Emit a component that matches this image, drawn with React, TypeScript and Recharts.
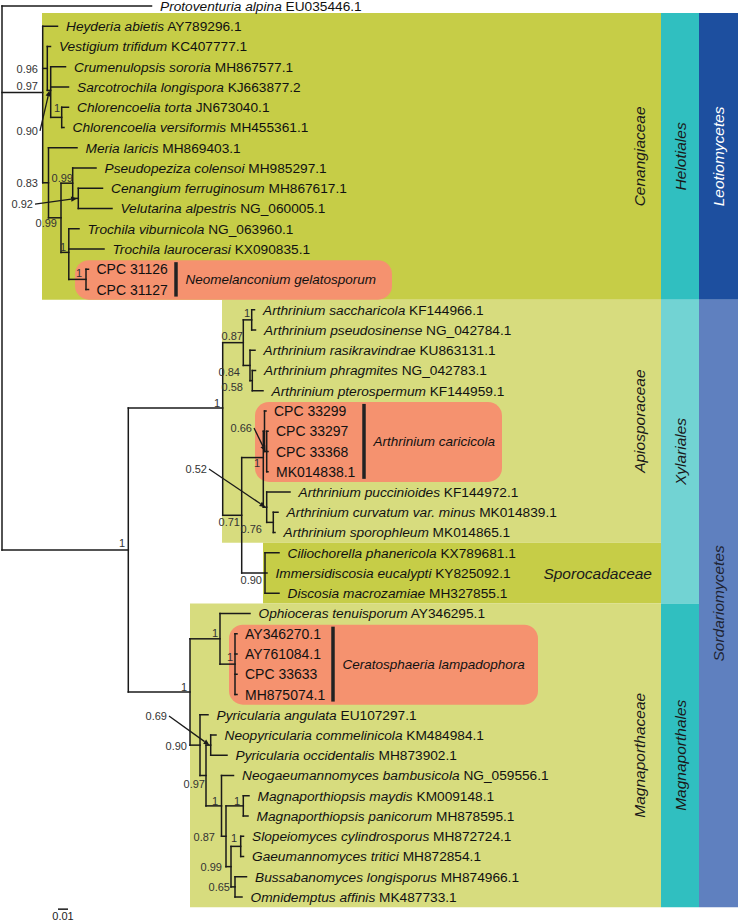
import React from 'react';
import { ScatterChart, Scatter, XAxis, YAxis, ReferenceLine, ReferenceArea } from 'recharts';

const FONT = '"Liberation Sans", Arial, Helvetica, sans-serif';
const INK = '#1a1a1a';

// tips, top to bottom: the row of a tip is its index
const taxa = [
  'Protoventuria alpina', 'Heyderia abietis', 'Vestigium trifidum', 'Crumenulopsis sororia',
  'Sarcotrochila longispora', 'Chlorencoelia torta', 'Chlorencoelia versiformis', 'Meria laricis',
  'Pseudopeziza colensoi', 'Cenangium ferruginosum', 'Velutarina alpestris', 'Trochila viburnicola',
  'Trochila laurocerasi', '', '', 'Arthrinium saccharicola', 'Arthrinium pseudosinense',
  'Arthrinium rasikravindrae', 'Arthrinium phragmites', 'Arthrinium pterospermum', '', '', '', '',
  'Arthrinium puccinioides', 'Arthrinium curvatum var. minus', 'Arthrinium sporophleum',
  'Ciliochorella phanericola', 'Immersidiscosia eucalypti', 'Discosia macrozamiae',
  'Ophioceras tenuisporum', '', '', '', '', 'Pyricularia angulata', 'Neopyricularia commelinicola',
  'Pyricularia occidentalis', 'Neogaeumannomyces bambusicola', 'Magnaporthiopsis maydis',
  'Magnaporthiopsis panicorum', 'Slopeiomyces cylindrosporus', 'Gaeumannomyces tritici',
  'Bussabanomyces longisporus', 'Omnidemptus affinis',
];

const accessions = [
  'EU035446.1', 'AY789296.1', 'KC407777.1', 'MH867577.1', 'KJ663877.2', 'JN673040.1', 'MH455361.1',
  'MH869403.1', 'MH985297.1', 'MH867617.1', 'NG_060005.1', 'NG_063960.1', 'KX090835.1',
  'CPC 31126', 'CPC 31127', 'KF144966.1', 'NG_042784.1', 'KU863131.1', 'NG_042783.1', 'KF144959.1',
  'CPC 33299', 'CPC 33297', 'CPC 33368', 'MK014838.1', 'KF144972.1', 'MK014839.1', 'MK014865.1',
  'KX789681.1', 'KY825092.1', 'MH327855.1', 'AY346295.1', 'AY346270.1', 'AY761084.1', 'CPC 33633',
  'MH875074.1', 'EU107297.1', 'KM484984.1', 'MH873902.1', 'NG_059556.1', 'KM009148.1', 'MH878595.1',
  'MH872724.1', 'MH872854.1', 'MH874966.1', 'MK487733.1',
];

// distance from the root (substitutions per site)
const tipDepth = [
  0.1495, 0.0555, 0.0485, 0.0635, 0.0665, 0.0665, 0.062, 0.075, 0.094, 0.1005, 0.110, 0.077, 0.102,
  0.0865, 0.0865, 0.2525, 0.2535, 0.253, 0.2535, 0.261, 0.264, 0.266, 0.266, 0.266, 0.288, 0.276,
  0.273, 0.277, 0.265, 0.277, 0.248, 0.235, 0.235, 0.235, 0.235, 0.206, 0.214, 0.225, 0.2315, 0.247,
  0.246, 0.2415, 0.2415, 0.2445, 0.240,
];

type TreeNode = { id: string; depth: number; kids: (number | string)[]; row?: number };

// internal nodes; kids are tip rows or node ids
const nodes: TreeNode[] = [
  { id: 'root', depth: 0, kids: [0, 'LEO', 'SOR'] },
  { id: 'LEO', depth: 0.0407, kids: [1, 'C', 'B'] },
  { id: 'C', depth: 0.0453, kids: [2, 'D'] },
  { id: 'D', depth: 0.0487, kids: [3, 4, 'CHL'] },
  { id: 'CHL', depth: 0.0597, kids: [5, 6] },
  { id: 'B', depth: 0.0465, kids: [7, 'E'] },
  { id: 'E', depth: 0.059, kids: ['F', 'I'] },
  { id: 'F', depth: 0.0707, kids: [8, 'G'] },
  { id: 'G', depth: 0.0763, kids: [9, 10] },
  { id: 'I', depth: 0.0668, kids: [11, 12, 'NEO'] },
  { id: 'NEO', depth: 0.084, kids: [13, 14] },
  { id: 'SOR', depth: 0.1263, kids: ['X', 'MG'] },
  { id: 'X', depth: 0.2207, kids: ['J', 'Q'], row: 19.85 },
  { id: 'J', depth: 0.2413, kids: ['K', 'L'] },
  { id: 'K', depth: 0.2497, kids: [15, 16] },
  { id: 'L', depth: 0.248, kids: [17, 'N'] },
  { id: 'N', depth: 0.2503, kids: [18, 19] },
  { id: 'Q', depth: 0.2397, kids: ['R', 'S'] },
  { id: 'R', depth: 0.2613, kids: ['V', 'T'], row: 22.3 },
  { id: 'V', depth: 0.2625, kids: [20, 'W'] },
  { id: 'W', depth: 0.2647, kids: [21, 22, 23] },
  { id: 'T', depth: 0.2647, kids: [24, 'U'] },
  { id: 'U', depth: 0.2713, kids: [25, 26] },
  { id: 'S', depth: 0.263, kids: [27, 28, 29] },
  { id: 'MG', depth: 0.188, kids: ['O1', 'P0'] },
  { id: 'O1', depth: 0.218, kids: [30, 'CER'] },
  { id: 'CER', depth: 0.233, kids: [31, 32, 33, 34] },
  { id: 'P0', depth: 0.198, kids: [35, 'P3'] },
  { id: 'P3', depth: 0.204, kids: ['P1', 'P4'] },
  { id: 'P1', depth: 0.2087, kids: [36, 37] },
  { id: 'P4', depth: 0.2195, kids: [38, 'P6'] },
  { id: 'P6', depth: 0.224, kids: ['P5', 'P7'] },
  { id: 'P5', depth: 0.2413, kids: [39, 40] },
  { id: 'P7', depth: 0.229, kids: ['P10', 'P11'] },
  { id: 'P10', depth: 0.2387, kids: [41, 42] },
  { id: 'P11', depth: 0.233, kids: [43, 44] },
];

// posterior probabilities: node, value, where the value is written, arrow to the node
const supports: [string, string, number, number, boolean][] = [
  ['LEO', '0.97', 0.036, 3.95, false], ['C', '0.96', 0.036, 3.11, false],
  ['D', '0.90', 0.036, 6.17, true], ['CHL', '1', 0.058, 5.04, false],
  ['B', '0.83', 0.036, 8.74, false], ['E', '0.99', 0.055, 10.72, false],
  ['F', '0.99', 0.071, 8.49, false], ['G', '0.92', 0.031, 9.78, true],
  ['I', '1', 0.064, 11.9, false], ['NEO', '1', 0.08, 13.19, false],
  ['SOR', '1', 0.123, 26.52, false], ['X', '1', 0.218, 19.6, false],
  ['J', '0.87', 0.241, 16.3, false], ['K', '1', 0.248, 15.16, false],
  ['L', '0.84', 0.238, 18.07, false], ['N', '0.58', 0.241, 18.81, false],
  ['Q', '0.71', 0.238, 25.48, false], ['W', '0.66', 0.25, 20.84, true],
  ['V', '1', 0.258, 22.57, false], ['T', '0.52', 0.205, 22.86, true],
  ['U', '0.76', 0.26, 25.83, false], ['S', '0.90', 0.26, 28.35, false],
  ['MG', '1', 0.185, 33.63, false], ['O1', '1', 0.216, 30.96, false],
  ['CER', '1', 0.231, 32.15, false], ['P0', '0.90', 0.185, 36.54, false],
  ['P1', '0.69', 0.165, 35.06, true], ['P3', '0.97', 0.203, 38.42, false],
  ['P4', '1', 0.216, 39.26, false], ['P5', '1', 0.238, 39.26, false],
  ['P6', '0.87', 0.213, 41.04, false], ['P10', '1', 0.235, 41.09, false],
  ['P7', '0.99', 0.22, 42.52, false], ['P11', '0.65', 0.228, 43.51, false],
];

const families = [
  { name: 'Cenangiaceae', first: 1, last: 14 },
  { name: 'Apiosporaceae', first: 15, last: 26 },
  { name: 'Sporocadaceae', first: 27, last: 29 },
  { name: 'Magnaporthaceae', first: 30, last: 44 },
];
const orders = [
  { name: 'Helotiales', first: 1, last: 14 },
  { name: 'Xylariales', first: 15, last: 29 },
  { name: 'Magnaporthales', first: 30, last: 44 },
];
const classes = [
  { name: 'Leotiomycetes', first: 1, last: 14 },
  { name: 'Sordariomycetes', first: 15, last: 44 },
];
const highlights = [
  { name: 'Neomelanconium gelatosporum', first: 13, last: 14 },
  { name: 'Arthrinium caricicola', first: 20, last: 23 },
  { name: 'Ceratosphaeria lampadophora', first: 31, last: 34 },
];

// layout of the shaded panels
const familyLeft: Record<string, number> = {
  Cenangiaceae: 0.04, Apiosporaceae: 0.22, Sporocadaceae: 0.261, Magnaporthaceae: 0.188,
};
const familyFill: Record<string, string> = {
  Cenangiaceae: '#c6cd47', Apiosporaceae: '#d7dc7e', Sporocadaceae: '#c6cd47', Magnaporthaceae: '#d7dc7e',
};
const orderFill: Record<string, string> = { Helotiales: '#30bfc0', Xylariales: '#72d3d3', Magnaporthales: '#30bfc0' };
const classFill: Record<string, string> = { Leotiomycetes: '#1d4f9f', Sordariomycetes: '#5f80bf' };
const classInk: Record<string, string> = { Leotiomycetes: '#ffffff', Sordariomycetes: '#1e2433' };
const highlightBox: Record<string, [number, number, number]> = {
  'Neomelanconium gelatosporum': [0.073, 0.39, 0.174],
  'Arthrinium caricicola': [0.253, 0.5, 0.362],
  'Ceratosphaeria lampadophora': [0.227, 0.536, 0.331],
};
const FAMILY_END = 0.659;
const ORDER_END = 0.697;
const CLASS_END = 0.736;
const TOP_EDGE = 0.35;

const panelTop = (first: number) => (first === 1 ? TOP_EDGE : first - 0.5);

const nodeMap: Record<string, TreeNode> = {};
nodes.forEach((n) => (nodeMap[n.id] = n));

const posOf = (k: number | string): { depth: number; row: number } => {
  if (typeof k === 'number') return { depth: tipDepth[k], row: k };
  const n = nodeMap[k];
  if (n.row !== undefined) return { depth: n.depth, row: n.row };
  const rows = n.kids.map((c) => posOf(c).row);
  return { depth: n.depth, row: rows.reduce((a, b) => a + b, 0) / rows.length };
};

type Seg = { x1: number; y1: number; x2: number; y2: number };
const branches: Seg[] = [];
nodes.forEach((n) => {
  const p = posOf(n.id);
  const kids = n.kids.map(posOf);
  const rows = kids.map((k) => k.row);
  branches.push({ x1: p.depth, y1: Math.min(...rows), x2: p.depth, y2: Math.max(...rows) });
  kids.forEach((k) => branches.push({ x1: p.depth, y1: k.row, x2: k.depth, y2: k.row }));
});

const arrows: Seg[] = supports
  .filter((s) => s[4])
  .map(([id, , x, y]) => {
    const p = posOf(id);
    return { x1: x + 0.002, y1: y, x2: p.depth - 0.0012, y2: p.row };
  });

const tipPoints = taxa.map((name, i) => ({ x: tipDepth[i], y: i, name, acc: accessions[i] }));
const supportPoints = supports.map(([, v, x, y]) => ({ x, y, v }));

const groupLabels = [
  ...families.map((f) => ({
    x: f.name === 'Sporocadaceae' ? FAMILY_END - 0.009 : FAMILY_END - 0.022,
    y: (panelTop(f.first) + f.last + 0.5) / 2,
    text: f.name,
    rotate: f.name !== 'Sporocadaceae',
    ink: '#1a1a1a',
  })),
  ...orders.map((o) => ({
    x: (FAMILY_END + ORDER_END) / 2,
    y: (panelTop(o.first) + o.last + 0.5) / 2,
    text: o.name,
    rotate: true,
    ink: '#1a1a1a',
  })),
  ...classes.map((c) => ({
    x: (ORDER_END + CLASS_END) / 2,
    y: (panelTop(c.first) + c.last + 0.5) / 2,
    text: c.name,
    rotate: true,
    ink: classInk[c.name],
  })),
];

const highlightLabels = highlights.map((h) => ({
  x: highlightBox[h.name][2] + 0.0095,
  y: (h.first + h.last) / 2,
  text: h.name,
}));

const scalePoint = [{ x: 0.061, y: 44.92, text: '0.01' }];

const TipLabel = (p: any) => {
  const { cx, cy, payload } = p;
  if (!payload.name) {
    return (
      <text x={cx + 8} y={cy} dy="0.36em" fontFamily={FONT} fontSize={14} fill="#111">
        {payload.acc}
      </text>
    );
  }
  return (
    <text x={cx + 8.5} y={cy} dy="0.36em" fontFamily={FONT} fontSize={13.7} fill="#111">
      <tspan fontStyle="italic">{payload.name}</tspan>
      {' ' + payload.acc}
    </text>
  );
};

const SupportLabel = (p: any) => (
  <text x={p.cx} y={p.cy} dy="0.36em" textAnchor="end" fontFamily={FONT} fontSize={11} fill="#333">
    {p.payload.v}
  </text>
);

const GroupLabel = (p: any) => {
  const { cx, cy, payload } = p;
  return (
    <text
      x={cx}
      y={cy}
      dy="0.36em"
      textAnchor={payload.rotate ? 'middle' : 'end'}
      transform={payload.rotate ? `rotate(-90 ${cx} ${cy})` : undefined}
      fontFamily={FONT}
      fontSize={15.5}
      fontStyle="italic"
      fill={payload.ink}
    >
      {payload.text}
    </text>
  );
};

const CladeLabel = (p: any) => (
  <text x={p.cx} y={p.cy} dy="0.36em" fontFamily={FONT} fontSize={13.5} fontStyle="italic" fill="#111">
    {p.payload.text}
  </text>
);

const ScaleLabel = (p: any) => (
  <text x={p.cx} y={p.cy} dy="0.36em" textAnchor="middle" fontFamily={FONT} fontSize={11} fill="#222">
    {p.payload.text}
  </text>
);

const Arrow = (p: any) => {
  const { x1, y1, x2, y2 } = p;
  const a = Math.atan2(y2 - y1, x2 - x1);
  const len = 6;
  const half = 2.6;
  const bx = x2 - len * Math.cos(a);
  const by = y2 - len * Math.sin(a);
  const pts = `${x2},${y2} ${bx - half * Math.sin(a)},${by + half * Math.cos(a)} ${bx + half * Math.sin(a)},${by - half * Math.cos(a)}`;
  return (
    <g>
      <line x1={x1} y1={y1} x2={bx} y2={by} stroke={INK} strokeWidth={1.3} />
      <polygon points={pts} fill={INK} />
    </g>
  );
};

const RoundBox = (p: any) => (
  <rect x={p.x} y={p.y} width={p.width} height={p.height} rx={14} ry={14} fill="#f5926f" />
);

const App: React.FC = () => {
  return (
    <div style={{ position: 'absolute', left: 0, top: 0, width: 738, height: 921, background: '#fff' }}>
      <ScatterChart width={738} height={921} margin={{ top: 0, right: 0, bottom: 0, left: 0 }}>
        <XAxis type="number" dataKey="x" domain={[-0.002, 0.736]} allowDataOverflow hide />
        <YAxis type="number" dataKey="y" domain={[-0.2963, 45.185]} allowDataOverflow reversed hide />

        {families.map((f) => (
          <ReferenceArea
            key={f.name}
            x1={familyLeft[f.name]}
            x2={FAMILY_END}
            y1={panelTop(f.first)}
            y2={f.last + 0.5}
            fill={familyFill[f.name]}
            fillOpacity={1}
            stroke="none"
          />
        ))}
        {orders.map((o) => (
          <ReferenceArea
            key={o.name}
            x1={FAMILY_END}
            x2={ORDER_END}
            y1={panelTop(o.first)}
            y2={o.last + 0.5}
            fill={orderFill[o.name]}
            fillOpacity={1}
            stroke="none"
          />
        ))}
        {classes.map((c) => (
          <ReferenceArea
            key={c.name}
            x1={ORDER_END}
            x2={CLASS_END}
            y1={panelTop(c.first)}
            y2={c.last + 0.5}
            fill={classFill[c.name]}
            fillOpacity={1}
            stroke="none"
          />
        ))}
        {highlights.map((h) => (
          <ReferenceArea
            key={h.name}
            x1={highlightBox[h.name][0]}
            x2={highlightBox[h.name][1]}
            y1={h.first - 0.45}
            y2={h.last + 0.5}
            fill="#f5926f"
            fillOpacity={1}
            shape={RoundBox}
          />
        ))}

        {highlights.map((h) => (
          <ReferenceLine
            key={'bar' + h.name}
            segment={[
              { x: highlightBox[h.name][2], y: h.first - 0.35 },
              { x: highlightBox[h.name][2], y: h.last + 0.35 },
            ]}
            stroke="#222"
            strokeWidth={3.5}
          />
        ))}
        {branches.map((s, i) => (
          <ReferenceLine
            key={'b' + i}
            segment={[{ x: s.x1, y: s.y1 }, { x: s.x2, y: s.y2 }]}
            stroke={INK}
            strokeWidth={1.5}
            strokeLinecap="square"
          />
        ))}
        {arrows.map((s, i) => (
          <ReferenceLine
            key={'a' + i}
            segment={[{ x: s.x1, y: s.y1 }, { x: s.x2, y: s.y2 }]}
            shape={Arrow}
          />
        ))}
        <ReferenceLine
          segment={[{ x: 0.056, y: 44.6 }, { x: 0.066, y: 44.6 }]}
          stroke={INK}
          strokeWidth={1.5}
        />

        <Scatter data={tipPoints} shape={TipLabel} isAnimationActive={false} />
        <Scatter data={supportPoints} shape={SupportLabel} isAnimationActive={false} />
        <Scatter data={groupLabels} shape={GroupLabel} isAnimationActive={false} />
        <Scatter data={highlightLabels} shape={CladeLabel} isAnimationActive={false} />
        <Scatter data={scalePoint} shape={ScaleLabel} isAnimationActive={false} />
      </ScatterChart>
    </div>
  );
};

export default App;
